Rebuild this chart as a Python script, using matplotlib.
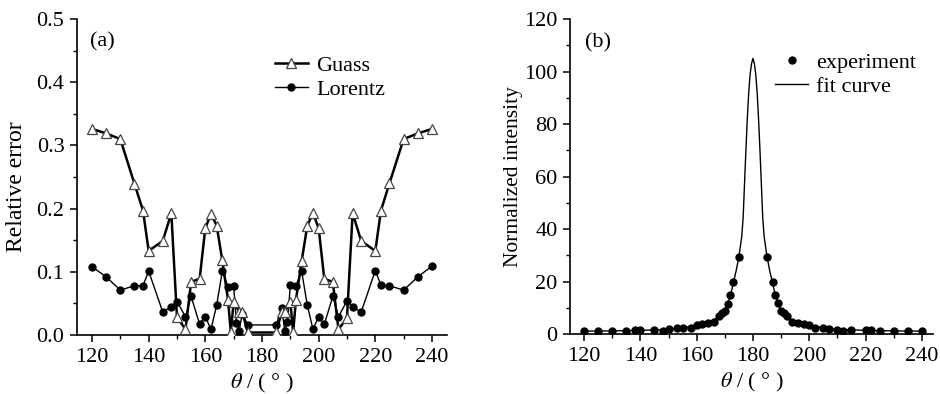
import matplotlib
matplotlib.use("Agg")
import matplotlib.pyplot as plt
from matplotlib.ticker import MultipleLocator
from matplotlib.lines import Line2D

plt.rcParams['font.family'] = ['Liberation Serif', 'DejaVu Serif']
plt.rcParams['mathtext.fontset'] = 'stix'

# ---------------- data: panel (a) ----------------
gauss_x = [120, 125, 130, 135, 138, 140, 145, 148, 150, 153, 155, 158, 160, 162, 164, 166,
           168, 169, 170, 172, 173, 175, 185, 187, 188, 190, 191, 192, 194, 196, 198, 200,
           202, 205, 207, 210, 212, 215, 220, 222, 225, 230, 235, 240]
gauss_y = [0.326, 0.319, 0.310, 0.239, 0.197, 0.133, 0.149, 0.193, 0.028, 0.009, 0.084, 0.089,
           0.169, 0.192, 0.173, 0.118, 0.056, 0.005, 0.052, 0.037, 0.037, 0.004, 0.004, 0.037,
           0.037, 0.052, 0.005, 0.056, 0.117, 0.173, 0.193, 0.169, 0.089, 0.084, 0.009, 0.027,
           0.193, 0.149, 0.133, 0.197, 0.240, 0.310, 0.319, 0.326]

lorentz_x = [120, 125, 130, 135, 138, 140, 145, 148, 150, 153, 155, 158, 160, 162, 164, 166,
             168, 170, 171, 172, 173, 175, 185, 187, 188, 189, 190, 192, 194, 196, 198, 200,
             202, 205, 207, 210, 212, 215, 220, 222, 225, 230, 235, 240]
lorentz_y = [0.108, 0.092, 0.071, 0.078, 0.078, 0.101, 0.036, 0.045, 0.053, 0.029, 0.061, 0.017,
             0.029, 0.009, 0.047, 0.101, 0.076, 0.078, 0.019, 0.007, 0.034, 0.016, 0.016, 0.043,
             0.007, 0.020, 0.079, 0.077, 0.101, 0.047, 0.009, 0.029, 0.017, 0.061, 0.029, 0.054,
             0.045, 0.036, 0.102, 0.079, 0.078, 0.071, 0.092, 0.109]

# ---------------- data: panel (b) ----------------
exp_x = [120, 125, 130, 135, 138, 140, 145, 148, 150, 153, 155, 158, 160, 162, 164, 166,
         168, 169, 170, 171, 172, 173, 175, 185, 187, 188, 189, 190, 191, 192, 194, 196,
         198, 200, 202, 205, 207, 210, 212, 215, 220, 222, 225, 230, 235, 240]
exp_y = [1.25, 1.4, 1.4, 1.4, 1.6, 1.7, 1.6, 1.4, 1.9, 2.3, 2.5, 2.5, 3.5, 3.9, 4.4, 4.8,
         7.0, 8.2, 9.0, 11.6, 14.9, 20.0, 29.5, 29.5, 20.0, 14.9, 11.8, 9.0, 8.2, 7.0, 4.8, 4.4,
         3.9, 3.5, 2.5, 2.5, 2.1, 1.6, 1.4, 1.6, 1.6, 1.6, 1.25, 1.25, 1.25, 1.25]

fit_x = [120, 130, 140, 150, 160, 165, 168, 170, 172, 173, 174, 175, 176, 176.5, 177, 177.5,
         178, 178.5, 179, 179.5, 180, 180.5, 181, 181.5, 182, 182.5, 183, 183.5, 184, 185,
         186, 187, 188, 190, 192, 195, 200, 210, 220, 230, 240]
fit_y = [1.2, 1.3, 1.5, 1.9, 3.2, 4.6, 6.8, 9.0, 14.5, 19.5, 24.0, 29.5, 37.0, 44.0, 57.0, 70.0,
         82.0, 92.0, 99.0, 103.0, 105.0, 103.0, 99.0, 92.0, 82.0, 70.0, 57.0, 44.0, 37.0, 29.5,
         24.0, 19.5, 14.5, 9.0, 6.8, 4.6, 3.2, 1.9, 1.5, 1.3, 1.2]

x_ticks = [120, 140, 160, 180, 200, 220, 240]
a_yticks = [0.0, 0.1, 0.2, 0.3, 0.4, 0.5]
a_yticklabels = ['0.0', '0.1', '0.2', '0.3', '0.4', '0.5']
b_yticks = [0, 20, 40, 60, 80, 100, 120]

FS = 16

fig = plt.figure(figsize=(9.4, 3.94), dpi=100)
ax1 = fig.add_axes([0.0819, 0.1497, 0.3933, 0.8021])
ax2 = fig.add_axes([0.6064, 0.1515, 0.3862, 0.8003])

for ax in (ax1, ax2):
    ax.spines['top'].set_visible(False)
    ax.spines['right'].set_visible(False)
    for s in ('left', 'bottom'):
        ax.spines[s].set_linewidth(1.2)
    ax.tick_params(which='major', direction='out', length=5, width=1.1, labelsize=FS, pad=4)
    ax.tick_params(which='minor', direction='out', length=3, width=1.0)
    ax.set_xticks(x_ticks)
    ax.xaxis.set_minor_locator(MultipleLocator(10))
    ax.set_xlabel(r'$\theta$ / ( ° )', fontsize=FS, labelpad=4)

# panel (a)
ax1.plot(gauss_x, gauss_y, color='black', lw=1.8, marker='^', ms=6.5,
         mfc='white', mec='#444444', mew=0.9, label='Guass', zorder=3)
ax1.plot(lorentz_x, lorentz_y, color='black', lw=1.0, marker='o', ms=5,
         mfc='black', mec='black', label='Lorentz', zorder=2)
ax1.set_xlim(114.7, 245.2)
ax1.set_ylim(0, 0.5)
ax1.set_yticks(a_yticks)
ax1.set_yticklabels(a_yticklabels)
ax1.yaxis.set_minor_locator(MultipleLocator(0.05))
ax1.set_ylabel('Relative error', fontsize=17)
ax1.yaxis.set_label_coords(-0.135, 0.47)
ax1.text(0.035, 0.927, '(a)', transform=ax1.transAxes, fontsize=FS, va='center', ha='left')
ax1.legend(loc='upper left', bbox_to_anchor=(0.535, 0.885), frameon=False,
           fontsize=FS, handlelength=1.5, handletextpad=0.35, labelspacing=0.15,
           borderpad=0, borderaxespad=0)

# panel (b)
ax2.plot(fit_x, fit_y, color='black', lw=1.0, zorder=2)
ax2.plot(exp_x, exp_y, linestyle='none', marker='o', ms=5, mfc='black', mec='black', zorder=3)
ax2.set_xlim(115, 244)
ax2.set_ylim(0, 120)
ax2.set_yticks(b_yticks)
ax2.yaxis.set_minor_locator(MultipleLocator(10))
ax2.set_ylabel('Normalized intensity', fontsize=15.5)
ax2.yaxis.set_label_coords(-0.13, 0.5)
ax2.text(0.04, 0.923, '(b)', transform=ax2.transAxes, fontsize=FS, va='center', ha='left')
h_exp = Line2D([], [], linestyle='none', marker='o', ms=5, mfc='black', mec='black')
h_fit = Line2D([], [], color='black', lw=1.0)
ax2.legend([h_exp, h_fit], ['experiment', 'fit curve'], loc='upper left',
           bbox_to_anchor=(0.565, 0.895), frameon=False, fontsize=FS, handlelength=1.5,
           handletextpad=0.35, labelspacing=0.15, borderpad=0, borderaxespad=0)

fig.savefig('out.png', dpi=100)
